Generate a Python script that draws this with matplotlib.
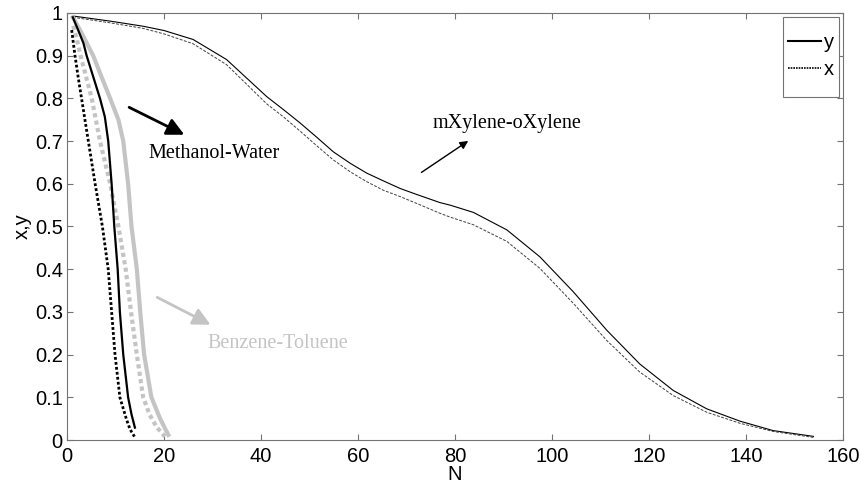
import numpy as np
import matplotlib
matplotlib.use('Agg')
from matplotlib import pyplot as plt
from matplotlib.patches import Rectangle

# Methanol-Water
mw_N_y = [1.2, 2.3, 3.4, 4.05, 5.4, 6.8, 7.8, 8.5, 9.2, 9.75, 10.45, 10.9, 11.6, 12.6, 13.3, 14.0]
mw_y = [0.99, 0.96, 0.929, 0.90, 0.851, 0.80, 0.757, 0.70, 0.60, 0.50, 0.40, 0.30, 0.20, 0.10, 0.06, 0.029]
mw_N_x = [0.97, 1.3, 1.65, 2.3, 3.0, 4.4, 5.8, 7.3, 8.5, 9.2, 9.9, 10.9, 12.3, 13.0, 13.9]
mw_x = [0.96, 0.93, 0.90, 0.85, 0.80, 0.70, 0.60, 0.50, 0.40, 0.30, 0.20, 0.10, 0.047, 0.025, 0.008]

# Benzene-Toluene
bt_N_y = [1.2, 2.7, 5.4, 7.1, 8.9, 10.6, 11.6, 12.6, 13.3, 14.4, 15.1, 15.9, 17.4, 19.2, 20.3, 20.9]
bt_y = [0.99, 0.96, 0.90, 0.851, 0.80, 0.75, 0.70, 0.60, 0.50, 0.40, 0.30, 0.20, 0.10, 0.05, 0.025, 0.012]
bt_N_x = [1.3, 2.0, 2.8, 5.1, 6.8, 8.9, 10.6, 12.1, 13.2, 14.4, 15.7, 17.0, 18.5, 20.2]
bt_x = [0.97, 0.94, 0.90, 0.80, 0.70, 0.60, 0.50, 0.40, 0.30, 0.20, 0.10, 0.06, 0.03, 0.008]

# mXylene-oXylene
xy_N = [1.2, 8.9, 15.7, 20, 26, 32.9, 41.2, 44.6, 48.0, 51.5, 54.9, 58.4, 61.8, 65.2, 68.7, 72.1,
        76.9, 79, 83.8, 90.7, 97.5, 104.4, 111.3, 118.1, 125, 131.9, 138.8, 145.6, 153.9]
xy_y = [0.993, 0.981, 0.969, 0.959, 0.938, 0.891, 0.804, 0.774, 0.743, 0.709, 0.675, 0.648, 0.625, 0.607,
        0.589, 0.575, 0.556, 0.550, 0.533, 0.492, 0.429, 0.347, 0.257, 0.178, 0.116, 0.073, 0.044,
        0.022, 0.0085]
xy_x = [0.99, 0.977, 0.964, 0.951, 0.928, 0.879, 0.787, 0.757, 0.724, 0.689, 0.656, 0.628, 0.605, 0.585,
        0.570, 0.554, 0.531, 0.522, 0.504, 0.465, 0.402, 0.320, 0.233, 0.159, 0.104, 0.065, 0.039,
        0.020, 0.006]

xticks = [0, 20, 40, 60, 80, 100, 120, 140, 160]
yticks = [0, 0.1, 0.2, 0.3, 0.4, 0.5, 0.6, 0.7, 0.8, 0.9, 1]
ytick_labels = ['0', '0.1', '0.2', '0.3', '0.4', '0.5', '0.6', '0.7', '0.8', '0.9', '1']

gray = '#c4c4c4'
sans = 'Liberation Sans'
serif = 'Liberation Serif'

fig = plt.figure(figsize=(8.62, 4.86), dpi=100)
ax = fig.add_axes([67/862, 46/486, 776/862, 427/486])

ax.plot(xy_N, xy_y, color='k', lw=0.8)
ax.plot(xy_N, xy_x, color='0.25', lw=0.7, ls=(0, (3, 1.5)))
ax.plot(bt_N_y, bt_y, color=gray, lw=3)
ax.plot(bt_N_x, bt_x, color=gray, lw=3, ls=(0, (1, 0.8)))
ax.plot(mw_N_y, mw_y, color='k', lw=1.6)
ax.plot(mw_N_x, mw_x, color='k', lw=2, ls=(0, (1, 0.8)))

ax.set_xlim(0, 160)
ax.set_ylim(0, 1)
ax.set_xticks(xticks)
ax.set_yticks(yticks)
ax.set_yticklabels(ytick_labels)
for lab in ax.get_xticklabels() + ax.get_yticklabels():
    lab.set_fontfamily(sans)
    lab.set_fontsize(14.5)
ax.tick_params(direction='in', top=True, right=True, length=4, width=0.8,
               color='0.45', labelcolor='k')
ax.tick_params(axis='x', pad=5)
ax.tick_params(axis='y', pad=3)
for s in ax.spines.values():
    s.set_color('0.45')
    s.set_linewidth(0.8)

ax.set_xlabel('N', fontfamily=sans, fontsize=14.5, labelpad=-1)
ax.set_ylabel('x,y', fontfamily=sans, fontsize=14.5, labelpad=2)

# annotations
ax.annotate('', xy=(24.7, 0.712), xytext=(12.3, 0.782),
            arrowprops=dict(arrowstyle='-|>', color='k', lw=2, mutation_scale=26))
ax.text(16.7, 0.672, 'Methanol-Water', fontfamily=serif, fontsize=14.5, va='center', ha='left')

ax.annotate('', xy=(30.1, 0.267), xytext=(18.1, 0.337),
            arrowprops=dict(arrowstyle='-|>', color=gray, lw=2, mutation_scale=26))
ax.text(28.9, 0.227, 'Benzene-Toluene', fontfamily=serif, fontsize=14.5, va='center', ha='left',
        color=gray)

ax.annotate('', xy=(83.2, 0.704), xytext=(72.6, 0.623),
            arrowprops=dict(arrowstyle='-|>', color='k', lw=1, mutation_scale=12))
ax.text(75.4, 0.742, 'mXylene-oXylene', fontfamily=serif, fontsize=14.5, va='center', ha='left')

# legend
ax.add_patch(Rectangle((0.9227, 0.803), 0.0721, 0.1876, transform=ax.transAxes,
                       fill=True, facecolor='white', edgecolor='0.45', lw=0.8, zorder=4))
l1, = ax.plot([], [], color='k', lw=1.5)
l2, = ax.plot([], [], color='k', lw=1.2, ls=(0, (1, 0.6)))
leg = ax.legend([l1, l2], ['y', 'x'], loc='center', bbox_to_anchor=(0.9588, 0.899),
                frameon=False, prop={'family': sans, 'size': 14.5},
                handlelength=1.6, handletextpad=0.15, labelspacing=0.4, borderpad=0)
leg.set_zorder(5)

fig.savefig('out.png', dpi=100)
